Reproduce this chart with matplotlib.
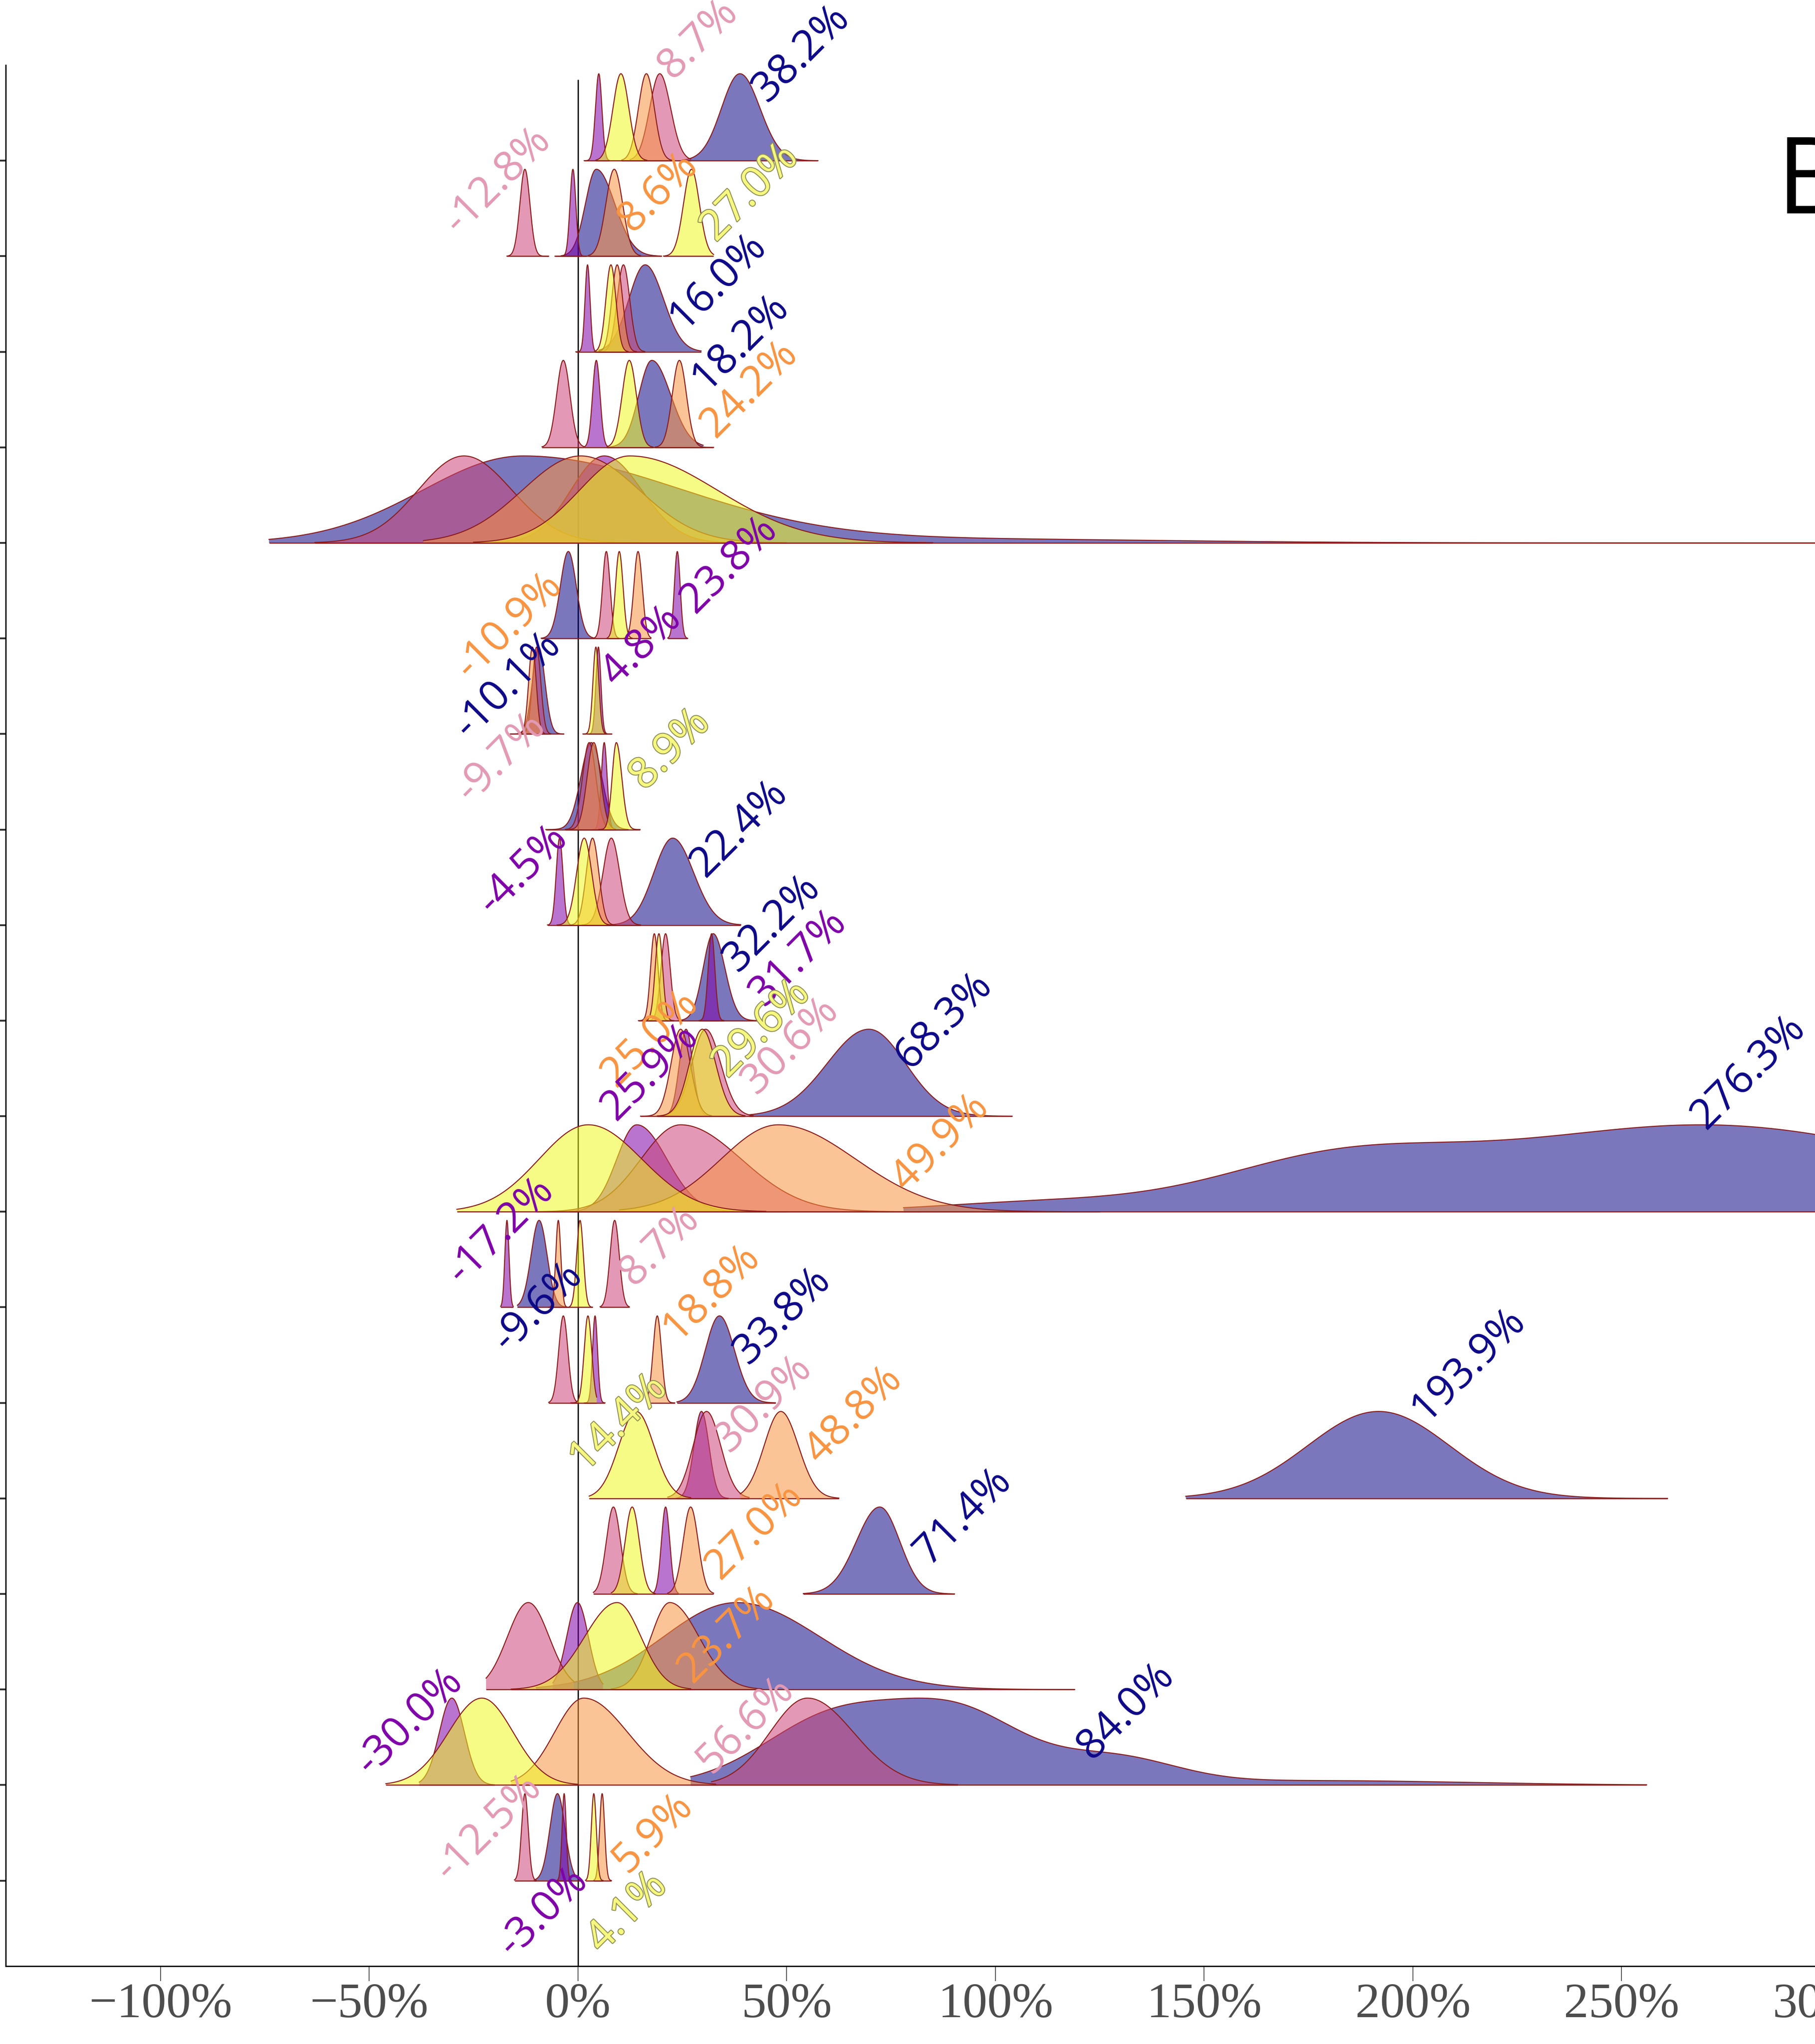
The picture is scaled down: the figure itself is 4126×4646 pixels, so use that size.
import numpy as np
import matplotlib
matplotlib.use('Agg')
import matplotlib.pyplot as plt
import matplotlib.patheffects as pe

W, H, DPI = 4126, 4646, 300

# plasma palette, five groups
group_colors = ['#0d0887', '#7e03a8', '#cc4678', '#f89441', '#f0f921']
label_colors = ['#0d0887', '#7e03a8', '#e39ab5', '#f89441', '#f5f77f']
edge_color = '#8b1c1c'

# ---- ridge densities (row 0 = top) ----
ridge_row = [0, 0, 0, 0, 0,
             1, 1, 1, 1, 1,
             2, 2, 2, 2, 2,
             3, 3, 3, 3, 3,
             4, 4, 4, 4, 4,
             5, 5, 5, 5, 5,
             6, 6, 6, 6, 6,
             7, 7, 7, 7, 7,
             8, 8, 8, 8, 8,
             9, 9, 9, 9, 9,
             10, 10, 10, 10, 10,
             11, 11, 11, 11, 11,
             12, 12, 12, 12, 12,
             13, 13, 13, 13, 13,
             14, 14, 14, 14, 14,
             15, 15, 15, 15, 15,
             16, 16, 16, 16, 16,
             17, 17, 17, 17, 17,
             18, 18, 18, 18, 18]
ridge_group = [1, 4, 3, 2, 0,
               2, 1, 0, 3, 4,
               1, 4, 3, 2, 0,
               2, 1, 4, 0, 3,
               2, 0, 3, 1, 4,
               0, 2, 4, 3, 1,
               3, 2, 0, 4, 1,
               0, 2, 3, 1, 4,
               1, 4, 3, 2, 0,
               3, 4, 2, 0, 1,
               3, 1, 4, 2, 0,
               4, 1, 2, 3, 0,
               1, 0, 3, 4, 2,
               2, 4, 1, 3, 0,
               4, 1, 2, 3, 0,
               2, 4, 1, 3, 0,
               2, 1, 4, 3, 0,
               1, 4, 3, 2, 0,
               2, 0, 1, 4, 3]
ridge_mode = [5.0, 10.3, 16.4, 19.6, 38.8,
              -12.7, -1.2, 4.4, 8.7, 27.2,
              2.3, 7.9, 9.4, 10.9, 16.1,
              -3.5, 4.4, 12.3, 17.7, 24.3,
              -27.3, -13.2, 0.7, 6.3, 12.4,
              -2.3, 6.8, 9.9, 14.4, 23.8,
              -10.9, -9.9, -9.4, 4.3, 4.9,
              3.2, 2.7, 3.8, 6.3, 9.2,
              -4.4, 1.5, 3.5, 8.0, 22.7,
              18.3, 19.4, 21.0, 32.4, 32.0,
              24.6, 25.9, 29.8, 30.6, 69.7,
              2.5, 14.1, 24.6, 48.0, 270.0,
              -17.0, -9.3, -4.7, 0.5, 8.8,
              -3.5, 2.4, 4.1, 19.0, 33.9,
              14.0, 29.6, 30.8, 48.6, 191.8,
              8.5, 13.0, 21.0, 27.0, 72.3,
              -11.9, -0.1, 9.4, 22.0, 38.0,
              -30.2, -23.0, 1.4, 55.0, 62.0,
              -12.7, -4.9, -3.3, 3.8, 5.8]
ridge_sd_left = [0.8, 1.9, 1.9, 2.4, 4.4,
                 1.2, 0.7, 2.6, 2.0, 1.9,
                 0.6, 1.2, 1.3, 1.5, 3.9,
                 1.6, 0.9, 1.7, 3.1, 1.7,
                 11.0, 24.0, 14.0, 8.0, 12.0,
                 1.9, 0.9, 0.9, 1.0, 0.7,
                 0.9, 1.0, 1.5, 0.7, 0.6,
                 2.5, 1.6, 1.6, 0.7, 1.0,
                 0.8, 1.8, 1.5, 2.0, 4.5,
                 0.9, 0.9, 1.1, 2.4, 0.8,
                 2.3, 1.6, 3.1, 3.3, 10.0,
                 11.8, 4.8, 9.5, 13.7, 55.0,
                 0.5, 1.9, 0.6, 0.8, 1.1,
                 1.1, 0.9, 0.6, 1.0, 3.4,
                 4.2, 1.8, 3.2, 4.0, 17.0,
                 1.7, 1.7, 1.0, 1.8, 5.6,
                 5.0, 2.6, 7.8, 4.5, 17.5,
                 3.0, 8.0, 7.0, 9.0, 17.0,
                 0.8, 1.8, 0.5, 0.6, 0.6]
ridge_sd_right = [0.75, 1.9, 1.9, 2.6, 4.8,
                  1.2, 0.7, 4.4, 2.0, 1.9,
                  0.6, 1.2, 1.3, 1.5, 4.4,
                  1.6, 0.9, 1.7, 4.5, 1.7,
                  11.5, 38.0, 14.0, 9.0, 21.0,
                  1.9, 0.9, 0.9, 1.0, 0.7,
                  0.9, 1.0, 1.5, 0.7, 0.6,
                  2.5, 1.6, 1.6, 0.7, 1.3,
                  0.8, 1.8, 1.5, 2.0, 5.0,
                  0.9, 0.9, 1.1, 2.8, 0.8,
                  2.3, 1.6, 3.2, 3.6, 8.8,
                  12.8, 7.2, 14.5, 18.5, 55.0,
                  0.5, 1.9, 0.6, 0.8, 1.1,
                  1.1, 0.9, 0.6, 1.0, 3.6,
                  4.2, 1.8, 3.4, 4.2, 17.0,
                  1.7, 1.7, 1.0, 1.8, 4.8,
                  5.0, 2.6, 5.7, 7.0, 20.0,
                  3.0, 7.5, 10.5, 11.0, 17.0,
                  0.8, 1.8, 0.5, 0.6, 0.6]
ridge_min = [1.5, 4.3, 10.5, 12.5, 25.0,
             -17.0, -5.5, -4.0, 2.5, 20.5,
             -0.5, 4.0, 5.0, 6.0, 5.0,
             -8.6, 1.5, 7.0, 7.0, 18.5,
             -63.0, -74.0, -37.0, -20.0, -25.0,
             -8.8, 4.0, 7.0, 11.0, 21.5,
             -14.0, -13.5, -16.2, 1.2, 2.5,
             -7.7, -3.0, -2.0, 3.5, 5.0,
             -7.3, -5.0, -2.0, 1.0, 8.0,
             14.5, 16.0, 17.0, 24.0, 29.0,
             15.0, 20.0, 19.0, 19.0, 41.0,
             -29.0, -2.0, -10.0, 10.0, 78.0,
             -18.5, -14.5, -7.0, -2.0, 5.3,
             -7.0, -1.7, 1.5, 16.7, 23.7,
             2.7, 23.6, 21.5, 38.9, 145.6,
             3.7, 8.0, 18.0, 21.5, 54.0,
             -22.0, -6.0, -16.0, 8.0, -10.0,
             -38.0, -46.0, -16.0, 32.0, 27.0,
             -15.2, -10.5, -5.0, 1.8, 3.8]
ridge_max = [7.5, 16.5, 22.5, 27.0, 57.5,
             -7.0, 2.0, 20.0, 15.0, 32.5,
             5.0, 12.0, 14.0, 16.0, 29.5,
             1.5, 7.5, 18.0, 30.0, 32.5,
             15.0, 320.0, 50.0, 45.0, 85.0,
             4.0, 9.8, 13.0, 17.5, 26.3,
             -8.0, -6.5, -3.4, 7.0, 8.1,
             12.0, 8.0, 9.0, 9.0, 14.9,
             -1.5, 8.0, 9.0, 15.0, 39.0,
             22.0, 23.0, 25.0, 43.8, 35.0,
             32.0, 31.0, 40.0, 42.0, 104.0,
             45.0, 50.0, 82.0, 125.0, 420.0,
             -15.5, -2.0, -2.5, 3.5, 12.3,
             0.0, 4.5, 6.5, 23.2, 47.3,
             27.0, 36.0, 41.0, 62.5, 261.0,
             14.2, 18.5, 24.0, 32.5, 90.2,
             -1.0, 6.0, 27.0, 44.0, 119.0,
             -20.0, 0.0, 33.0, 91.0, 256.0,
             -10.0, 0.8, -1.5, 6.0, 8.0]

# extra mixture components for multi-modal / long-tailed ridges
extra_row = [4, 11, 11, 17, 17, 17, 17]
extra_group = [0, 0, 0, 0, 0, 0, 0]
extra_mu = [100.0, 180.0, 110.0, 92.0, 128.0, 175.0, 215.0]
extra_sd = [45.0, 28.0, 25.0, 15.0, 15.0, 30.0, 25.0]
extra_w = [0.04, 0.45, 0.10, 0.94, 0.39, 0.06, 0.012]

# ---- value labels ----
label_row = [0, 0,
             1, 1, 1,
             2,
             3, 3,
             5,
             6, 6, 6, 6,
             7,
             8, 8,
             9, 9,
             10, 10, 10, 10, 10,
             11, 11,
             12, 12, 12,
             13, 13,
             14, 14, 14, 14,
             15, 15,
             16,
             17, 17, 17,
             18, 18, 18, 18]
label_group = [2, 0,
               2, 3, 4,
               0,
               0, 3,
               1,
               3, 0, 2, 1,
               4,
               1, 0,
               0, 1,
               3, 1, 4, 2, 0,
               3, 0,
               1, 0, 2,
               3, 0,
               4, 2, 3, 0,
               3, 0,
               3,
               1, 2, 0,
               2, 3, 1, 4]
label_text = ['8.7%', '38.2%',
              '-12.8%', '8.6%', '27.0%',
              '16.0%',
              '18.2%', '24.2%',
              '23.8%',
              '-10.9%', '-10.1%', '-9.7%', '4.8%',
              '8.9%',
              '-4.5%', '22.4%',
              '32.2%', '31.7%',
              '25.0%', '25.9%', '29.6%', '30.6%', '68.3%',
              '49.9%', '276.3%',
              '-17.2%', '-9.6%', '8.7%',
              '18.8%', '33.8%',
              '14.4%', '30.9%', '48.8%', '193.9%',
              '27.0%', '71.4%',
              '23.7%',
              '-30.0%', '56.6%', '84.0%',
              '-12.5%', '5.9%', '-3.0%', '4.1%']
label_x = [28.7, 53.5,
           -19.3, 19.2, 41.2,
           33.4,
           38.8, 41.0,
           36.2,
           -16.5, -16.8, -18.5, 15.2,
           22.1,
           -13.2, 38.6,
           46.5, 52.8,
           17.2, 17.2, 44.0, 50.9, 87.6,
           86.8, 280.4,
           -18.5, -9.6, 19.5,
           31.9, 49.0,
           9.8, 44.4, 66.1, 213.3,
           42.2, 92.3,
           35.5,
           -40.3, 40.1, 131.2,
           -21.5, 18.0, -8.4, 11.8]
label_dy = [1.27, 1.12,
            0.79, 0.67, 0.66,
            0.74,
            1.10, 0.61,
            0.77,
            1.13, 0.51, -0.25, 0.92,
            0.83,
            0.58, 1.01,
            1.02, 0.66,
            0.81, 0.46, 0.91, 0.74, 1.00,
            0.72, 1.46,
            0.80, 0.00, 0.64,
            1.16, 0.91,
            0.78, 0.99, 0.87, 1.40,
            0.66, 0.81,
            0.58,
            0.66, 0.63, 0.77,
            0.55, 0.50, -0.33, -0.34]

x_ticks = [-100, -50, 0, 50, 100, 150, 200, 250, 300]
x_tick_labels = ['\u2212100%', '\u221250%', '0%', '50%', '100%', '150%', '200%', '250%', '300%']

n_rows = 19
ridge_scale = 0.91

fig = plt.figure(figsize=(W / DPI, H / DPI), dpi=DPI)
x_lo, x_hi = -137.1, 320.0
px_per_unit = 9.49
ax_left = 12.7 / W
ax_width = (x_hi - x_lo) * px_per_unit / W
ax_bottom = (H - 4469) / H
ax_top = (H - 148) / H
ax = fig.add_axes([ax_left, ax_bottom, ax_width, ax_top - ax_bottom])
ax.set_xlim(x_lo, x_hi)
ax.set_ylim(-0.895, 19.0)

# reference line at 0
ax.plot([0, 0], [-0.895, 18.85], color='black', lw=0.7, zorder=1, solid_capstyle='butt')

for i in range(len(ridge_row)):
    k = ridge_row[i]
    g = ridge_group[i]
    base = n_rows - 1 - k
    xs = np.linspace(ridge_min[i], ridge_max[i], 1200)
    m = ridge_mode[i]
    sd = np.where(xs < m, ridge_sd_left[i], ridge_sd_right[i])
    f = np.exp(-0.5 * ((xs - m) / sd) ** 2)
    for j in range(len(extra_row)):
        if extra_row[j] == k and extra_group[j] == g:
            f = f + extra_w[j] * np.exp(-0.5 * ((xs - extra_mu[j]) / extra_sd[j]) ** 2)
    f = f / f.max()
    top = base + ridge_scale * f
    z = 2 + k * 0.1 + g * 0.01
    ax.fill_between(xs, base, top, facecolor=group_colors[g], alpha=0.55,
                    linewidth=0, zorder=z)
    ax.plot(xs, top, color=edge_color, lw=0.55, zorder=z + 0.005)
    ax.plot([xs[0], xs[-1]], [base, base], color=edge_color, lw=0.6,
            zorder=z + 0.005, solid_capstyle='butt')

for i in range(len(label_text)):
    g = label_group[i]
    y = n_rows - 1 - label_row[i] + label_dy[i]
    t = ax.text(label_x[i], y, label_text[i], rotation=45, rotation_mode='anchor',
                ha='center', va='center', fontsize=23, color=label_colors[g],
                family='Open Sans', zorder=20)
    if g == 4:
        t.set_path_effects([pe.withStroke(linewidth=1.0, foreground='#8f8f55')])

ax.set_xticks(x_ticks)
ax.set_xticklabels(x_tick_labels, family='Liberation Serif')
ax.set_yticks(range(n_rows))
ax.set_yticklabels([])
ax.tick_params(axis='x', length=8.2, width=0.5, color='#555555', labelsize=27,
               labelcolor='#4d4d4d', pad=1.0, direction='out')
ax.tick_params(axis='y', length=8.2, width=1.0, color='#333333', direction='out')
for s in ['top', 'right']:
    ax.spines[s].set_visible(False)
for s in ['left', 'bottom']:
    ax.spines[s].set_color('black')
    ax.spines[s].set_linewidth(0.7)

fig.text(0.9787, (H - 485) / H, 'B', fontsize=58, family='Open Sans',
         ha='left', va='baseline', color='black')

fig.savefig('out.png', dpi=DPI)
